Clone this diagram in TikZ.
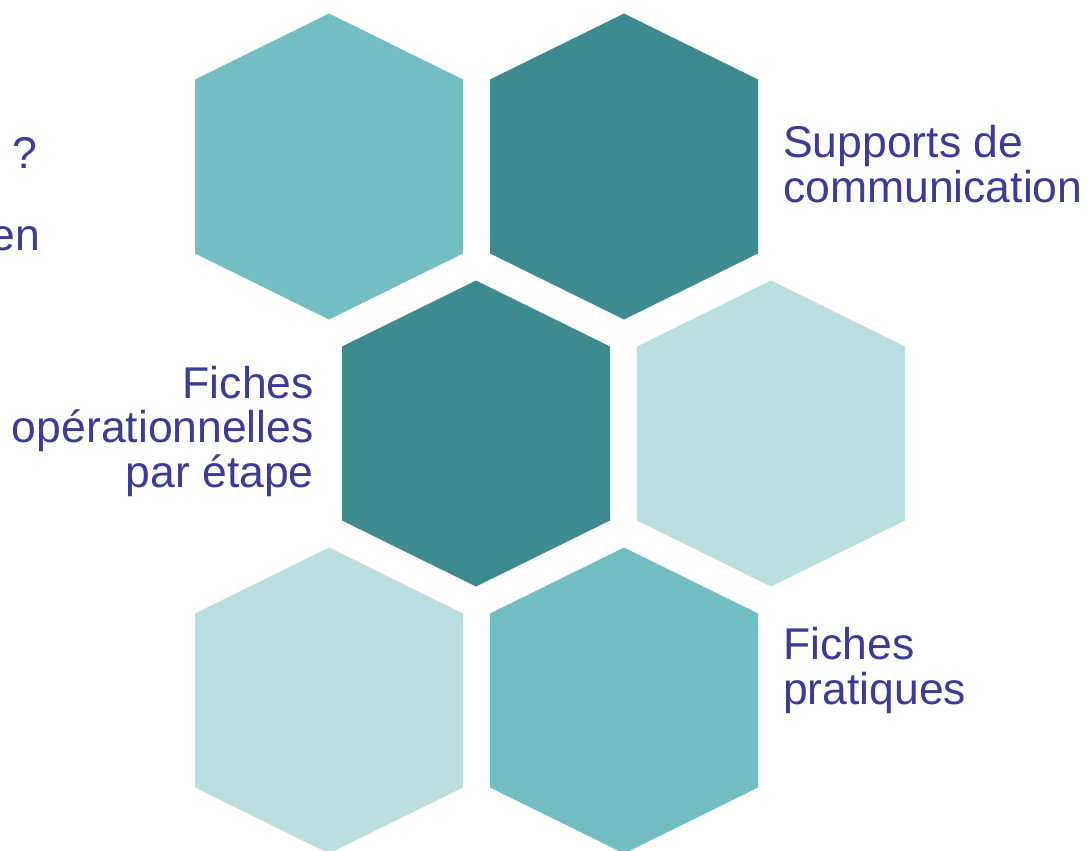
\documentclass[tikz,border=0pt]{standalone}
\usepackage{fontspec}
\setmainfont{Liberation Sans}
\usetikzlibrary{positioning}
\definecolor{hexdark}{HTML}{3D8A8F}
\definecolor{hexmid}{HTML}{72BEC3}
\definecolor{hexlight}{HTML}{BBDFE1}
\definecolor{ink}{HTML}{3C3B96}
\tikzset{
  hexa/.pic={\path[pic actions] (0,-153) -- (134,-87) -- (134,87) -- (0,153) -- (-134,87) -- (-134,-87) -- cycle;},
}

\begin{document}
\begin{tikzpicture}[
  x=1pt,y=-1pt,
  hexlabel/.style={text=ink,inner sep=0pt,font=\fontsize{44.5}{44.5}\selectfont},
]
\useasboundingbox (0,0) rectangle (1087,851);
\clip (0,0) rectangle (1087,851);

% hexagon centres
\coordinate (h1) at (329,166.5);
\coordinate (h2) at (624,166.5);
\coordinate (h3) at (476,433.5);
\coordinate (h4) at (771,433.5);
\coordinate (h5) at (329,700.5);
\coordinate (h6) at (624,700.5);

\foreach \c/\col in {h1/hexmid,h2/hexdark,h3/hexdark,h4/hexlight,h5/hexlight,h6/hexmid}
  \pic[fill=\col] at (\c) {hexa};

% texts (base = last line)
\node[hexlabel,anchor=base west,align=left] (supports) at (783,202) {Supports de\\communication};
\node[hexlabel,anchor=base east,align=right] (fiches) at (314,487) {Fiches\\opérationnelles\\par étape};
\node[hexlabel,anchor=base west,align=left] (pratiques) at (783,704) {Fiches\\pratiques};
\node[hexlabel,anchor=base east] (question) at (37,168) {r ?};
\node[hexlabel,anchor=base east] (moyen) at (40,250) {en};
\end{tikzpicture}
\end{document}
